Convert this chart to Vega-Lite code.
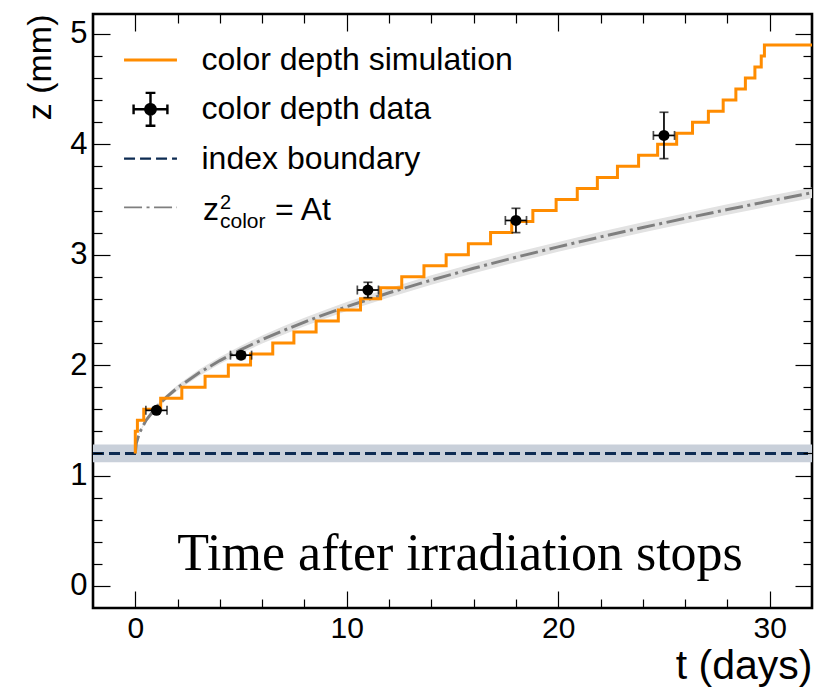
{
  "$schema": "https://vega.github.io/schema/vega-lite/v6.json",
  "width": 719,
  "height": 594,
  "autosize": {"type": "none"},
  "padding": {"left": 93, "top": 14, "right": 6, "bottom": 82},
  "background": "white",
  "datasets": {
    "sim": [
      {"t": 0, "z": 1.2}, {"t": 0, "z": 1.4}, {"t": 0.1, "z": 1.5}, {"t": 0.4, "z": 1.6},
      {"t": 1.2, "z": 1.7}, {"t": 2.2, "z": 1.8}, {"t": 3.3, "z": 1.9}, {"t": 4.4, "z": 2.0},
      {"t": 5.45, "z": 2.1}, {"t": 6.5, "z": 2.2}, {"t": 7.5, "z": 2.3}, {"t": 8.55, "z": 2.4},
      {"t": 9.6, "z": 2.5}, {"t": 10.65, "z": 2.6}, {"t": 11.6, "z": 2.7}, {"t": 12.6, "z": 2.8},
      {"t": 13.65, "z": 2.9}, {"t": 14.7, "z": 3.0}, {"t": 15.75, "z": 3.1}, {"t": 16.8, "z": 3.2},
      {"t": 17.8, "z": 3.3}, {"t": 18.8, "z": 3.4}, {"t": 19.9, "z": 3.5}, {"t": 20.9, "z": 3.6},
      {"t": 21.85, "z": 3.7}, {"t": 22.8, "z": 3.8}, {"t": 23.8, "z": 3.9}, {"t": 24.7, "z": 4.0},
      {"t": 25.6, "z": 4.1}, {"t": 26.35, "z": 4.2}, {"t": 27.1, "z": 4.3}, {"t": 27.8, "z": 4.4},
      {"t": 28.4, "z": 4.5}, {"t": 28.85, "z": 4.6}, {"t": 29.3, "z": 4.7}, {"t": 29.6, "z": 4.8},
      {"t": 29.75, "z": 4.9}, {"t": 32, "z": 4.9}
    ],
    "fit": [
      {"t": 0, "z": 1.2, "lo": 1.2, "hi": 1.2},
      {"t": 0.05, "z": 1.294, "lo": 1.289, "hi": 1.299},
      {"t": 0.2, "z": 1.388, "lo": 1.38, "hi": 1.396},
      {"t": 0.5, "z": 1.498, "lo": 1.486, "hi": 1.51},
      {"t": 1, "z": 1.621, "lo": 1.603, "hi": 1.639},
      {"t": 1.5, "z": 1.715, "lo": 1.693, "hi": 1.737},
      {"t": 2, "z": 1.795, "lo": 1.77, "hi": 1.82},
      {"t": 3, "z": 1.929, "lo": 1.9, "hi": 1.958},
      {"t": 4, "z": 2.041, "lo": 2.009, "hi": 2.073},
      {"t": 5, "z": 2.141, "lo": 2.107, "hi": 2.175},
      {"t": 6, "z": 2.231, "lo": 2.195, "hi": 2.267},
      {"t": 7, "z": 2.313, "lo": 2.275, "hi": 2.351},
      {"t": 8, "z": 2.39, "lo": 2.351, "hi": 2.429},
      {"t": 9, "z": 2.462, "lo": 2.422, "hi": 2.502},
      {"t": 10, "z": 2.53, "lo": 2.489, "hi": 2.571},
      {"t": 12, "z": 2.655, "lo": 2.613, "hi": 2.697},
      {"t": 14, "z": 2.77, "lo": 2.727, "hi": 2.813},
      {"t": 16, "z": 2.877, "lo": 2.833, "hi": 2.921},
      {"t": 18, "z": 2.977, "lo": 2.932, "hi": 3.022},
      {"t": 20, "z": 3.071, "lo": 3.026, "hi": 3.116},
      {"t": 22, "z": 3.161, "lo": 3.115, "hi": 3.207},
      {"t": 24, "z": 3.247, "lo": 3.201, "hi": 3.293},
      {"t": 26, "z": 3.329, "lo": 3.282, "hi": 3.376},
      {"t": 28, "z": 3.409, "lo": 3.362, "hi": 3.456},
      {"t": 30, "z": 3.486, "lo": 3.438, "hi": 3.534},
      {"t": 32, "z": 3.561, "lo": 3.513, "hi": 3.609}
    ],
    "meas": [
      {"t": 1, "z": 1.59, "terr": 0.5, "zerr": 0.02},
      {"t": 5, "z": 2.09, "terr": 0.5, "zerr": 0.03},
      {"t": 11, "z": 2.68, "terr": 0.5, "zerr": 0.07},
      {"t": 18, "z": 3.31, "terr": 0.5, "zerr": 0.11},
      {"t": 25, "z": 4.08, "terr": 0.5, "zerr": 0.21}
    ],
    "boundary": [
      {"t": -2, "z": 1.2, "lo": 1.12, "hi": 1.28},
      {"t": 32, "z": 1.2, "lo": 1.12, "hi": 1.28}
    ],
    "legend": [
      {"series": "color depth simulation"},
      {"series": "color depth data"},
      {"series": "index boundary"},
      {"series": "fit"}
    ]
  },
  "config": {
    "view": {"stroke": "black", "strokeWidth": 2.6},
    "axis": {"grid": false},
    "legend": {
      "labelFont": "Liberation Sans",
      "labelFontSize": 32,
      "labelColor": "black",
      "symbolSize": 2401,
      "rowPadding": 1.3,
      "labelOffset": 25,
      "labelLimit": 600,
      "padding": 0,
      "gridAlign": "all"
    }
  },
  "layer": [
    {
      "data": {"name": "boundary"},
      "mark": {"type": "area", "color": "#c9d0da", "clip": true},
      "encoding": {
        "x": {"field": "t", "type": "quantitative", "scale": {"domain": [-2, 32], "nice": false, "zero": false},
          "axis": {"orient": "bottom", "values": [0, 10, 20, 30], "ticks": false, "domain": false, "grid": false,
            "labelFont": "Liberation Sans", "labelFontSize": 30, "labelColor": "black", "labelPadding": 5,
            "labelFlush": false, "labelOverlap": false,
            "title": "t (days)", "titleFont": "Liberation Sans", "titleFontSize": 41, "titleFontWeight": "normal",
            "titleColor": "black", "titleAnchor": "end", "titlePadding": 3}},
        "y": {"field": "lo", "type": "quantitative", "scale": {"domain": [-0.2, 5.18], "nice": false, "zero": false},
          "axis": {"orient": "left", "values": [0, 1, 2, 3, 4, 5], "ticks": false, "domain": false, "grid": false,
            "labelFont": "Liberation Sans", "labelFontSize": 31, "labelColor": "black", "labelPadding": 6,
            "labelFlush": false, "labelOverlap": false,
            "title": "z (mm)", "titleFont": "Liberation Sans", "titleFontSize": 34, "titleFontWeight": "normal",
            "titleColor": "black", "titleAnchor": "end", "titlePadding": 12}},
        "y2": {"field": "hi"}
      }
    },
    {
      "data": {"name": "fit"},
      "mark": {"type": "area", "color": "#e2e2e2", "clip": true},
      "encoding": {
        "x": {"field": "t", "type": "quantitative",
          "axis": {"orient": "top", "values": [0, 10, 20, 30], "labels": false, "domain": false, "grid": false,
            "ticks": true, "tickSize": 17, "offset": -17, "tickColor": "black", "tickWidth": 1.2, "title": null, "zindex": 1}},
        "y": {"field": "lo", "type": "quantitative",
          "axis": {"orient": "right", "values": [0, 1, 2, 3, 4, 5], "labels": false, "domain": false, "grid": false,
            "ticks": true, "tickSize": 17, "offset": -17, "tickColor": "black", "tickWidth": 1.2, "title": null, "zindex": 1}},
        "y2": {"field": "hi"}
      }
    },
    {
      "data": {"name": "boundary"},
      "mark": {"type": "line", "color": "#0d2b52", "strokeWidth": 3, "strokeDash": [11, 5], "clip": true},
      "encoding": {
        "x": {"field": "t", "type": "quantitative", "axis": null},
        "y": {"field": "z", "type": "quantitative", "axis": null}
      }
    },
    {
      "data": {"name": "fit"},
      "mark": {"type": "line", "color": "#7f7f7f", "strokeWidth": 3, "strokeDash": [18, 4.5, 3, 4.5], "clip": true},
      "encoding": {
        "x": {"field": "t", "type": "quantitative",
          "axis": {"orient": "bottom", "values": [0, 10, 20, 30], "labels": false, "domain": false, "grid": false,
            "ticks": true, "tickSize": 17, "offset": -17, "tickColor": "black", "tickWidth": 1.2, "title": null, "zindex": 1}},
        "y": {"field": "z", "type": "quantitative",
          "axis": {"orient": "left", "values": [0, 1, 2, 3, 4, 5], "labels": false, "domain": false, "grid": false,
            "ticks": true, "tickSize": 17, "offset": -17, "tickColor": "black", "tickWidth": 1.2, "title": null, "zindex": 1}}
      }
    },
    {
      "data": {"name": "sim"},
      "mark": {"type": "line", "color": "#ff8c00", "strokeWidth": 3, "interpolate": "step-after", "clip": true},
      "encoding": {
        "x": {"field": "t", "type": "quantitative",
          "axis": {"orient": "top", "values": [2, 4, 6, 8, 12, 14, 16, 18, 22, 24, 26, 28], "labels": false, "domain": false, "grid": false,
            "ticks": true, "tickSize": 9, "offset": -9, "tickColor": "black", "tickWidth": 1.2, "title": null, "zindex": 1}},
        "y": {"field": "z", "type": "quantitative",
          "axis": {"orient": "right", "values": [0.2, 0.4, 0.6, 0.8, 1.2, 1.4, 1.6, 1.8, 2.2, 2.4, 2.6, 2.8, 3.2, 3.4, 3.6, 3.8, 4.2, 4.4, 4.6, 4.8], "labels": false, "domain": false, "grid": false,
            "ticks": true, "tickSize": 9, "offset": -9, "tickColor": "black", "tickWidth": 1.2, "title": null, "zindex": 1}}
      }
    },
    {
      "data": {"name": "meas"},
      "mark": {"type": "errorbar", "ticks": {"size": 9, "thickness": 1.7, "color": "black"}, "rule": {"strokeWidth": 1.7, "color": "black"}},
      "encoding": {
        "x": {"field": "t", "type": "quantitative", "axis": null},
        "y": {"field": "z", "type": "quantitative", "axis": null},
        "yError": {"field": "zerr"}
      }
    },
    {
      "data": {"name": "meas"},
      "mark": {"type": "errorbar", "ticks": {"size": 9, "thickness": 1.7, "color": "black"}, "rule": {"strokeWidth": 1.7, "color": "black"}},
      "encoding": {
        "y": {"field": "z", "type": "quantitative", "axis": null},
        "x": {"field": "t", "type": "quantitative", "axis": null},
        "xError": {"field": "terr"}
      }
    },
    {
      "data": {"name": "meas"},
      "mark": {"type": "point", "filled": true, "color": "black", "size": 121, "opacity": 1},
      "encoding": {
        "x": {"field": "t", "type": "quantitative",
          "axis": {"orient": "bottom", "values": [2, 4, 6, 8, 12, 14, 16, 18, 22, 24, 26, 28], "labels": false, "domain": false, "grid": false,
            "ticks": true, "tickSize": 9, "offset": -9, "tickColor": "black", "tickWidth": 1.2, "title": null, "zindex": 1}},
        "y": {"field": "z", "type": "quantitative",
          "axis": {"orient": "left", "values": [0.2, 0.4, 0.6, 0.8, 1.2, 1.4, 1.6, 1.8, 2.2, 2.4, 2.6, 2.8, 3.2, 3.4, 3.6, 3.8, 4.2, 4.4, 4.6, 4.8], "labels": false, "domain": false, "grid": false,
            "ticks": true, "tickSize": 9, "offset": -9, "tickColor": "black", "tickWidth": 1.2, "title": null, "zindex": 1}}
      }
    },
    {
      "data": {"name": "legend"},
      "transform": [{"filter": "false"}],
      "mark": {"type": "point", "filled": true, "opacity": 1},
      "encoding": {
        "stroke": {"field": "series", "type": "nominal",
          "scale": {"domain": ["color depth simulation", "color depth data", "index boundary", "fit"], "range": ["#ff8c00", "black", "#0d2b52", "#7f7f7f"]},
          "legend": {"title": null, "orient": "none", "legendX": 31.5, "legendY": 20, "symbolSize": 2401, "labelExpr": "datum.label == 'fit' ? '' : datum.label"}},
        "fill": {"field": "series", "type": "nominal",
          "scale": {"domain": ["color depth simulation", "color depth data", "index boundary", "fit"], "range": ["#ff8c00", "black", "#0d2b52", "#7f7f7f"]},
          "legend": {"title": null, "orient": "none", "legendX": 31.5, "legendY": 20, "symbolSize": 2401, "labelExpr": "datum.label == 'fit' ? '' : datum.label"}},
        "shape": {"field": "series", "type": "nominal",
          "scale": {"domain": ["color depth simulation", "color depth data", "index boundary", "fit"],
            "range": ["M0,-0.6M0,0.6M-1.08,0L1.08,0",
              "M0,-0.6M0,0.6M-0.69,0L0.69,0M-0.69,-0.2L-0.69,0.2M0.69,-0.2L0.69,0.2M0,-0.67L0,0.67M-0.2,-0.67L0.2,-0.67M-0.2,0.67L0.2,0.67M0.21,0A0.21,0.21,0,1,1,-0.21,0A0.21,0.21,0,1,1,0.21,0Z",
              "M0,-0.6M0,0.6M-1.08,0L1.08,0",
              "M0,-0.6M0,0.6M-1.08,0L1.08,0"]},
          "legend": {"title": null, "orient": "none", "legendX": 31.5, "legendY": 20, "symbolSize": 2401, "labelExpr": "datum.label == 'fit' ? '' : datum.label"}},
        "strokeDash": {"field": "series", "type": "nominal",
          "scale": {"domain": ["color depth simulation", "color depth data", "index boundary", "fit"], "range": [[1, 0], [1, 0], [11, 5], [18, 4.5, 3, 4.5]]},
          "legend": {"title": null, "orient": "none", "legendX": 31.5, "legendY": 20, "symbolSize": 2401, "labelExpr": "datum.label == 'fit' ? '' : datum.label"}},
        "strokeWidth": {"field": "series", "type": "ordinal",
          "scale": {"domain": ["color depth simulation", "color depth data", "index boundary", "fit"], "range": [2.8, 1.7, 2.8, 2.8]},
          "legend": {"title": null, "orient": "none", "legendX": 31.5, "legendY": 20, "symbolSize": 2401, "labelExpr": "datum.label == 'fit' ? '' : datum.label"}}
      }
    },
    {
      "data": {"values": [{}]},
      "mark": {"type": "text", "text": "z", "font": "Liberation Sans", "fontSize": 32, "align": "left", "baseline": "alphabetic", "color": "black"},
      "encoding": {
        "x": {"datum": 3.2, "type": "quantitative", "axis": null},
        "y": {"datum": 3.314, "type": "quantitative", "axis": null}
      }
    },
    {
      "data": {"values": [{}]},
      "mark": {"type": "text", "text": "2", "font": "Liberation Sans", "fontSize": 20, "align": "left", "baseline": "alphabetic", "color": "black", "dx": 17, "dy": -11},
      "encoding": {
        "x": {"datum": 3.2, "type": "quantitative", "axis": null},
        "y": {"datum": 3.314, "type": "quantitative", "axis": null}
      }
    },
    {
      "data": {"values": [{}]},
      "mark": {"type": "text", "text": "color", "font": "Liberation Sans", "fontSize": 21, "align": "left", "baseline": "alphabetic", "color": "black", "dx": 17, "dy": 8},
      "encoding": {
        "x": {"datum": 3.2, "type": "quantitative", "axis": null},
        "y": {"datum": 3.314, "type": "quantitative", "axis": null}
      }
    },
    {
      "data": {"values": [{}]},
      "mark": {"type": "text", "text": "= At", "font": "Liberation Sans", "fontSize": 32, "align": "left", "baseline": "alphabetic", "color": "black", "dx": 72},
      "encoding": {
        "x": {"datum": 3.2, "type": "quantitative", "axis": null},
        "y": {"datum": 3.314, "type": "quantitative", "axis": null}
      }
    },
    {
      "data": {"values": [{}]},
      "mark": {"type": "text", "text": "Time after irradiation stops", "font": "Liberation Serif", "fontSize": 52, "align": "center", "baseline": "alphabetic", "color": "black"},
      "encoding": {
        "x": {"datum": 15.355, "type": "quantitative", "axis": null},
        "y": {"datum": 0.14, "type": "quantitative", "axis": null}
      }
    }
  ]
}
